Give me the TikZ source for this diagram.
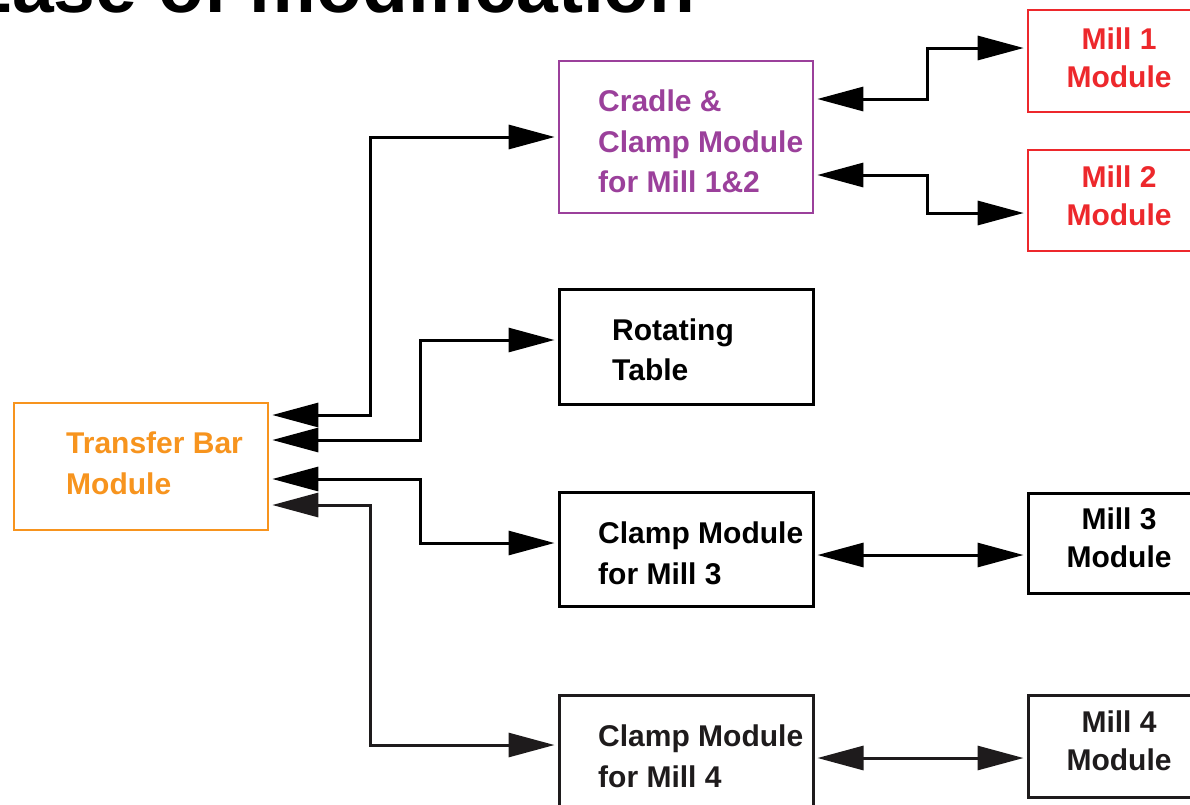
\documentclass[tikz,border=0pt]{standalone}
\usepackage{fontspec}
\setmainfont{Liberation Sans}
\usetikzlibrary{arrows.meta}
\definecolor{tborange}{RGB}{247,148,30}
\definecolor{crpurple}{RGB}{155,64,155}
\definecolor{millred}{RGB}{237,40,44}
\definecolor{inkblk}{RGB}{30,27,28}
\tikzset{
  box/.style={draw, rectangle, inner sep=0pt, line width=3pt, fill=none},
  cbox/.style={draw, rectangle, inner sep=0pt, line width=2.6pt},
  lbl/.style={inner sep=0pt, align=left, font=\fontsize{30}{41}\selectfont\bfseries},
  mlbl/.style={inner sep=0pt, align=center, font=\fontsize{30}{38}\selectfont\bfseries},
  conn/.style={line width=3pt, {Triangle[length=46pt,width=24pt]}-{Triangle[length=46pt,width=24pt]}, shorten <=3pt, shorten >=3pt},
}
\begin{document}
\begin{tikzpicture}[x=1pt,y=-1pt]
\useasboundingbox (0,0) rectangle (1190,804);
\clip (0,0) rectangle (1190,804);
\fill[white] (0,0) rectangle (1190,804);
% title
\node[inner sep=0pt, anchor=base west, font=\fontsize{75}{80}\selectfont\bfseries] (title) at (-38,12) {Ease of modification};
% boxes
\node[cbox, draw=tborange, minimum width=254pt, minimum height=127pt] (tb) at (141,466.5) {};
\node[cbox, draw=crpurple, minimum width=254pt, minimum height=152pt] (cradle) at (686,137) {};
\node[box, minimum width=254pt, minimum height=115pt] (rot) at (686,346.5) {};
\node[box, minimum width=254pt, minimum height=114pt] (c3) at (686,549) {};
\node[box, draw=inkblk, minimum width=254pt, minimum height=115pt] (c4) at (686,752.5) {};
\node[cbox, draw=millred, minimum width=200pt, minimum height=102pt] (m1) at (1128,61) {};
\node[cbox, draw=millred, minimum width=200pt, minimum height=101pt] (m2) at (1128,200.5) {};
\node[box, minimum width=200pt, minimum height=100pt] (m3) at (1128,543) {};
\node[box, draw=inkblk, minimum width=200pt, minimum height=102pt] (m4) at (1128,746) {};
% labels
\node[lbl, text=tborange, anchor=north west] (tbt) at (66,432) {Transfer Bar\\Module};
\node[lbl, text=crpurple, anchor=north west, font=\fontsize{30}{40.5}\selectfont\bfseries] (crt) at (598,90) {Cradle \&\\Clamp Module\\for Mill 1\&2};
\node[lbl, anchor=north west, font=\fontsize{30}{40}\selectfont\bfseries] (rott) at (612,319) {Rotating\\Table};
\node[lbl, anchor=north west] (c3t) at (598,522) {Clamp Module\\for Mill 3};
\node[lbl, text=inkblk, anchor=north west] (c4t) at (598,725) {Clamp Module\\for Mill 4};
\node[mlbl, text=millred, anchor=north] (m1t) at (1119,28) {Mill 1\\Module};
\node[mlbl, text=millred, anchor=north] (m2t) at (1119,166) {Mill 2\\Module};
\node[mlbl, anchor=north] (m3t) at (1119,508) {Mill 3\\Module};
\node[mlbl, text=inkblk, anchor=north] (m4t) at (1119,711) {Mill 4\\Module};
% connectors
\draw[conn] (tb.east |- 0,415) -- (370,415) |- (cradle.west);
\draw[conn] (tb.east |- 0,440) -- (420,440) |- (rot.west |- 0,340);
\draw[conn] (tb.east |- 0,479) -- (420,479) |- (c3.west |- 0,543);
\draw[conn, draw=inkblk] (tb.east |- 0,505) -- (370,505) |- (c4.west |- 0,745);
\draw[conn] (cradle.east |- 0,99) -- (927,99) |- (m1.west |- 0,48);
\draw[conn] (cradle.east |- 0,175) -- (927,175) |- (m2.west |- 0,213);
\draw[conn] (c3.east |- 0,555) -- (m3.west |- 0,555);
\draw[conn, draw=inkblk] (c4.east |- 0,758) -- (m4.west |- 0,758);
\end{tikzpicture}
\end{document}
